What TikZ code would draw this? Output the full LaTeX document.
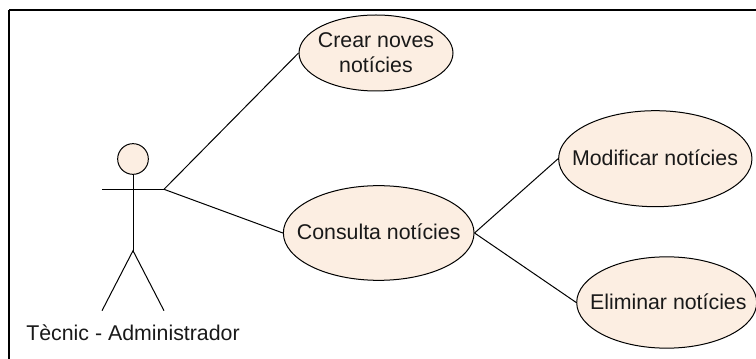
\documentclass[tikz,border=0pt]{standalone}
\usepackage{fontspec}
\setmainfont{Liberation Sans}
\usetikzlibrary{shapes.geometric}
\definecolor{usefill}{RGB}{252,238,226}
\tikzset{
  x=0.75pt,y=-0.75pt,
  usecase/.style={ellipse,draw=black,fill=usefill,line width=0.75pt,inner sep=0pt},
  link/.style={draw=black,line width=0.75pt},
  label/.style={font=\fontsize{16}{18.75}\selectfont,inner sep=0pt,align=center,text=black!90}
}
\begin{document}
\begin{tikzpicture}
\useasboundingbox (0,0) rectangle (756,359);
\fill[white] (0,0) rectangle (756,359);
\draw[black,line width=1.6pt] (9,10) -- (756,10);
\draw[black,line width=1.6pt] (9,10) -- (9,359);
\begin{scope}
\clip (0,0) rectangle (756,359);
\node[usecase,minimum width=115.5pt,minimum height=57pt] (crear) at (376,53) {};
\node[usecase,minimum width=145pt,minimum height=72pt] (modif) at (655.3,158.7) {};
\node[usecase,minimum width=143pt,minimum height=71pt] (cons) at (378.7,233) {};
\node[usecase,minimum width=135pt,minimum height=68.5pt] (elim) at (666.7,302.5) {};
\end{scope}
\node[label] (crearlabel) at (376,52.5) {Crear noves\\notícies};
\node[label] (modiflabel) at (655,157.7) {Modificar notícies};
\node[label] (conslabel) at (378.7,232) {Consulta notícies};
\node[label] (elimlabel) at (668.3,301.7) {Eliminar notícies};
\node[circle,draw=black,fill=usefill,line width=0.75pt,minimum size=23pt,inner sep=0pt] (head) at (133,159) {};
\coordinate (hip) at (133,250.7);
\coordinate (larm) at (102,189.3);
\coordinate (rarm) at (164,189.3);
\coordinate (lfoot) at (102,310.7);
\coordinate (rfoot) at (164,310.7);
\draw[link] (head.south) -- (hip);
\draw[link] (larm) -- (rarm);
\draw[link] (lfoot) -- (hip) -- (rfoot);
\node[label] (actor) at (133,332.7) {Tècnic - Administrador};
\draw[link] (rarm) -- (crear.west);
\draw[link] (rarm) -- (cons.west);
\draw[link] (cons.east) -- (modif.west);
\draw[link] (cons.east) -- (elim.west);
\end{tikzpicture}
\end{document}
